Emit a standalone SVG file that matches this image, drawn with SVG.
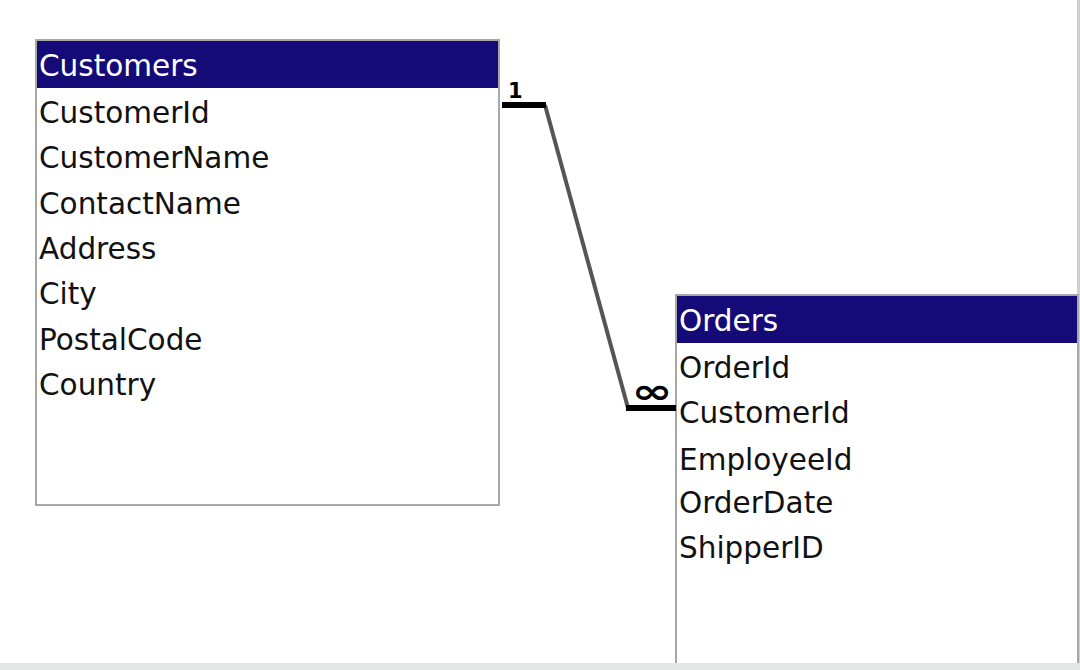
<svg xmlns="http://www.w3.org/2000/svg" width="1080" height="670" viewBox="0 0 1080 670">
<style>
.box{fill:#ffffff;stroke:#a8a8a8;stroke-width:2}
.hdr{fill:#150b78}
.ht{font-family:"DejaVu Sans",Verdana,sans-serif;font-size:29.5px;fill:#ffffff}
.ft{font-family:"DejaVu Sans",Verdana,sans-serif;font-size:29.5px;fill:#111111}
.card{font-family:"DejaVu Sans",Verdana,sans-serif;font-weight:bold;fill:#000}
</style>
<rect x="0" y="0" width="1080" height="670" fill="#ffffff"/>
<rect x="1077" y="0" width="3" height="670" fill="#d0d0d0"/>
<g id="customers">
<rect class="box" x="36" y="40" width="463" height="465"/>
<rect class="hdr" x="37" y="41" width="461" height="47"/>
<text class="ht" x="39" y="76">Customers</text>
<text class="ft" x="39" y="123">CustomerId</text>
<text class="ft" x="39" y="168">CustomerName</text>
<text class="ft" x="39" y="214">ContactName</text>
<text class="ft" x="39" y="259">Address</text>
<text class="ft" x="39" y="304">City</text>
<text class="ft" x="39" y="350">PostalCode</text>
<text class="ft" x="39" y="395">Country</text>
</g>
<g id="orders">
<rect class="box" x="676" y="295" width="402" height="380"/>
<rect class="hdr" x="677" y="296" width="400" height="47"/>
<text class="ht" x="679" y="331">Orders</text>
<text class="ft" x="679" y="378">OrderId</text>
<text class="ft" x="679" y="423">CustomerId</text>
<text class="ft" x="679" y="470">EmployeeId</text>
<text class="ft" x="679" y="513">OrderDate</text>
<text class="ft" x="679" y="558">ShipperID</text>
</g>
<rect x="0" y="663" width="1080" height="7" fill="#e4e5e5"/>
<g id="connectors">
<polyline points="545,105 628,408" fill="none" stroke="#555555" stroke-width="4"/>
<line x1="502" y1="105" x2="546" y2="105" stroke="#000" stroke-width="6"/>
<line x1="626" y1="408" x2="676" y2="408" stroke="#000" stroke-width="6"/>
<text class="card" x="508" y="98" font-size="21">1</text>
<text class="card" x="652" y="403" font-size="34" text-anchor="middle" transform="translate(652,0) scale(1.45,1) translate(-652,0)">∞</text>
</g>
</svg>
